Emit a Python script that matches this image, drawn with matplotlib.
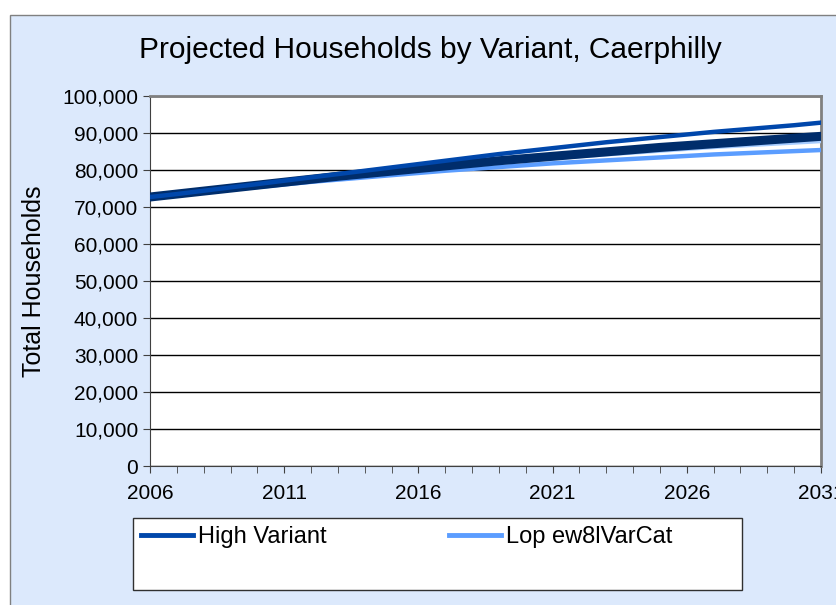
import matplotlib.pyplot as plt
from matplotlib.patches import Rectangle
from matplotlib.ticker import FuncFormatter, MultipleLocator

plt.rcParams['font.family'] = ['Liberation Sans', 'DejaVu Sans']

years = list(range(2006, 2032))
high = [72700, 73500, 74400, 75300, 76200, 77100, 78000, 78900, 79800, 80700,
        81600, 82500, 83400, 84300, 85100, 85900, 86700, 87500, 88200, 88900,
        89600, 90300, 90900, 91500, 92100, 92800]
principal = [72700, 73500, 74300, 75100, 75900, 76700, 77500, 78300, 79000, 79700,
             80400, 81100, 81800, 82500, 83100, 83700, 84300, 84900, 85500, 86100,
             86600, 87100, 87600, 88100, 88600, 89100]
light = [72600, 73400, 74100, 74900, 75600, 76400, 77100, 77800, 78500, 79200,
         79900, 80600, 81200, 81800, 82400, 83000, 83600, 84100, 84600, 85100,
         85600, 86100, 86500, 86900, 87300, 87700]
low = [72600, 73300, 74000, 74700, 75400, 76100, 76800, 77400, 78000, 78600,
       79200, 79800, 80300, 80800, 81300, 81800, 82200, 82600, 83000, 83400,
       83800, 84200, 84500, 84800, 85100, 85400]
year_labels = [2006, 2011, 2016, 2021, 2026, 2031]

bg = '#DCE9FC'
fig = plt.figure(figsize=(8.37, 6.05), dpi=100)
fig.patches.append(Rectangle((10 / 837, -0.05), 1.1, 1 - 15 / 605 + 0.05,
                             transform=fig.transFigure, facecolor=bg,
                             edgecolor='#808080', linewidth=1, zorder=-2))

ax = fig.add_axes([150 / 837, 1 - 466 / 605, 671 / 837, 370 / 605], zorder=2)
ax.set_facecolor('white')

l_low, = ax.plot(years, low, color='#5B9DFF', linewidth=3.2, zorder=3)
ax.plot(years, light, color='#A6CCFF', linewidth=2.5, zorder=4)
ax.plot(years, principal, color='#002D6B', linewidth=6.5, zorder=5)
l_high, = ax.plot(years, high, color='#0047AB', linewidth=3.2, zorder=6)

ax.set_xlim(2006, 2031)
ax.set_ylim(0, 100000)
ax.set_xticks(year_labels)
ax.xaxis.set_minor_locator(MultipleLocator(1))
ax.yaxis.set_major_locator(MultipleLocator(10000))
ax.yaxis.set_major_formatter(FuncFormatter(lambda v, p: f'{int(v):,}'))
ax.grid(axis='y', color='black', linewidth=1)
ax.set_axisbelow(True)
ax.tick_params(axis='both', labelsize=15, direction='out', length=5, color='#404040')
ax.tick_params(axis='x', which='minor', length=5, color='#404040')
ax.tick_params(axis='x', pad=8)
for s in ['top', 'right']:
    ax.spines[s].set_color('#808080')
    ax.spines[s].set_linewidth(2)
for s in ['left', 'bottom']:
    ax.spines[s].set_color('#404040')

ax.set_ylabel('Total Households', fontsize=18)
ax.yaxis.set_label_coords(-0.155, 0.5)
fig.text(430 / 837, 1 - 50 / 605, 'Projected Households by Variant, Caerphilly',
         fontsize=21.5, ha='center', va='center')

fig.patches.append(Rectangle((133 / 837, 1 - 590 / 605), 609 / 837, 72 / 605,
                             transform=fig.transFigure, facecolor='white',
                             edgecolor='#303030', linewidth=1, zorder=-1))
leg = fig.legend([l_high, l_low], ['High Variant', 'Lop ew8lVarCat'], ncol=2,
                 loc='upper left', bbox_to_anchor=(134 / 837, 1 - 519 / 605),
                 frameon=False, fontsize=17, handlelength=2.2, handletextpad=0.2,
                 columnspacing=5.2, borderaxespad=0, borderpad=0.3)
for h in leg.get_lines():
    h.set_linewidth(3.5)

fig.savefig('out.png', dpi=100)
